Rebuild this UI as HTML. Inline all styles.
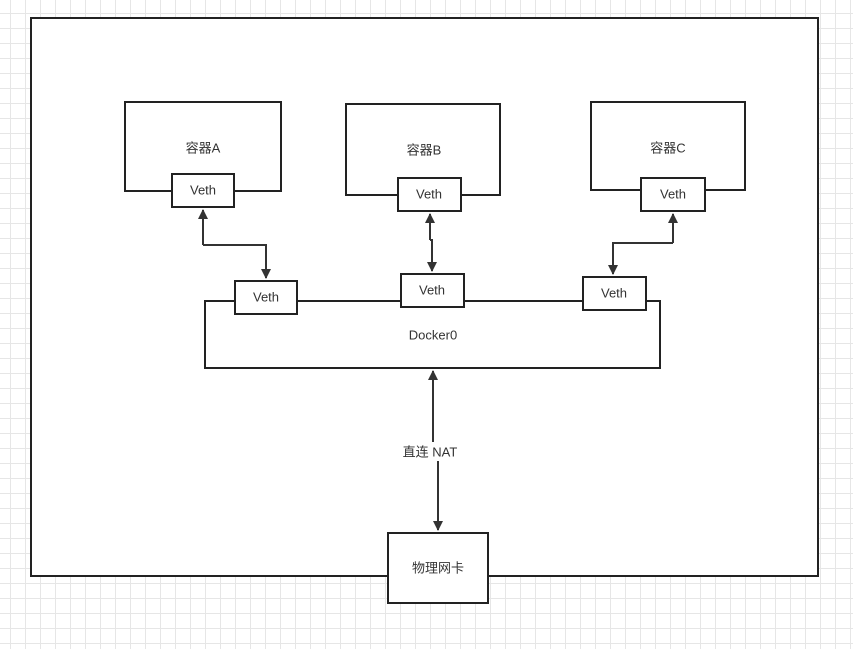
<!DOCTYPE html>
<html><head><meta charset="utf-8"><style>
html,body{margin:0;padding:0;width:853px;height:649px;overflow:hidden;background:#fff}
svg{display:block}
text{font-family:"Liberation Sans","Noto Sans CJK SC",sans-serif;font-size:13px;fill:#333;text-anchor:middle;dominant-baseline:middle}
</style></head><body>
<svg width="853" height="649" viewBox="0 0 853 649" xmlns="http://www.w3.org/2000/svg">
<defs>
<pattern id="g" x="10" y="13" width="15" height="15" patternUnits="userSpaceOnUse">
<path d="M0 0.5H15M0.5 0V15" stroke="#e6e6e6" stroke-width="1" fill="none"/>
</pattern>
<marker id="a" markerWidth="10" markerHeight="12" refX="9" refY="5" orient="auto" markerUnits="userSpaceOnUse">
<path d="M0,0 L10,5 L0,10 Z" fill="#333"/>
</marker>
</defs>
<rect width="853" height="649" fill="url(#g)"/>
<rect x="31" y="18" width="787" height="558" fill="#fff" stroke="#222" stroke-width="2"/>
<g stroke="#222" stroke-width="2" fill="none">
<!-- containers -->
<path d="M172 191H125V102H281V191H234"/>
<path d="M398 195H346V104H500V195H461"/>
<path d="M641 190H591V102H745V190H705"/>
<!-- docker0 -->
<path d="M235 301H205V368H660V301H646"/>
<path d="M297 301H401M464 301H583"/>
</g>
<g stroke="#222" stroke-width="2" fill="#fff">
<rect x="172" y="174" width="62" height="33"/>
<rect x="398" y="178" width="63" height="33"/>
<rect x="641" y="178" width="64" height="33"/>
<rect x="235" y="281" width="62" height="33"/>
<rect x="401" y="274" width="63" height="33"/>
<rect x="583" y="277" width="63" height="33"/>
<rect x="388" y="533" width="100" height="70"/>
</g>
<g stroke="#333" stroke-width="2" fill="none">
<path d="M203 245V210" marker-end="url(#a)"/>
<path d="M203 245H266V278" marker-end="url(#a)"/>
<path d="M430 240V214" marker-end="url(#a)"/>
<path d="M430 240H432V271" marker-end="url(#a)"/>
<path d="M673 243V214" marker-end="url(#a)"/>
<path d="M673 243H613V274" marker-end="url(#a)"/>
<path d="M433 442V371" marker-end="url(#a)"/>
<path d="M438 461V530" marker-end="url(#a)"/>
</g>
<text x="203" y="149">容器A</text>
<text x="203" y="191">Veth</text>
<text x="424" y="151">容器B</text>
<text x="429" y="195">Veth</text>
<text x="668" y="149">容器C</text>
<text x="673" y="195">Veth</text>
<text x="266" y="298">Veth</text>
<text x="432" y="291">Veth</text>
<text x="614" y="294">Veth</text>
<text x="433" y="336">Docker0</text>
<text x="430" y="453">直连 NAT</text>
<text x="438" y="569">物理网卡</text>
</svg>
</body></html>
